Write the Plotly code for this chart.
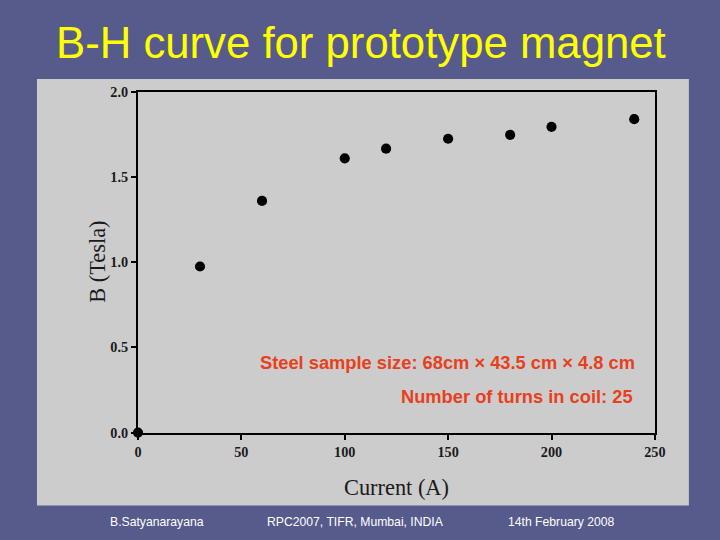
import plotly.graph_objects as go

current_a = [0, 30, 60, 100, 120, 150, 180, 200, 240]
b_tesla = [0.0, 0.975, 1.36, 1.61, 1.667, 1.725, 1.748, 1.795, 1.84]
x_ticks = [0, 50, 100, 150, 200, 250]
y_ticks = [0.0, 0.5, 1.0, 1.5, 2.0]

# reference pixel geometry (720x540 slide)
RW, RH = 720, 540
K = 732 / 720  # photo scale compensation
W, H = round(RW * K), round(RH * K)
x0p, x1p = 137, 654
y0p, y1p = 432, 91

fig = go.Figure()
fig.add_trace(go.Scatter(
    x=current_a, y=b_tesla, mode="markers",
    marker=dict(color="black", size=10 * K),
    cliponaxis=False, showlegend=False,
))

serif = "Liberation Serif, Times New Roman, serif"
sans = "Liberation Sans, Arial, sans-serif"

axis_common = dict(
    showline=True, linecolor="black", linewidth=2, mirror=True,
    ticks="outside", ticklen=5, tickwidth=1.5, tickcolor="black",
    showgrid=False, zeroline=False,
    tickfont=dict(family=serif, size=14 * K, color="#1a1a1a", weight="bold"),
)


def px(x):
    # empirical correction of the photographed offset
    return ((x - 3) / 0.996) / RW


def py(y):
    return (RH - (y - 7) / 0.988) / RH


fig.update_layout(
    width=W, height=H,
    margin=dict(l=0, r=0, t=0, b=0),
    paper_bgcolor="#565b8b",
    plot_bgcolor="#cccccc",
    xaxis=dict(range=[0, 250], tickvals=x_ticks,
               domain=[px(x0p), px(x1p)], **axis_common),
    yaxis=dict(range=[0, 2.0], tickvals=y_ticks, tickformat=".1f",
               domain=[py(y0p), py(y1p)], **axis_common),
    shapes=[
        dict(type="rect", xref="paper", yref="paper", layer="below",
             x0=px(36), x1=min(px(688), 1.0), y0=py(505), y1=py(78),
             fillcolor="#cccccc", line=dict(width=0)),
    ],
    annotations=[
        dict(text="B-H curve for prototype magnet", xref="paper", yref="paper",
             x=px(360.5), y=py(42), showarrow=False, xanchor="center", yanchor="middle",
             font=dict(family=sans, size=43 * K, color="#ffff00")),
        dict(text="Current (A)", xref="paper", yref="paper",
             x=px((x0p + x1p) / 2), y=py(487), showarrow=False,
             xanchor="center", yanchor="middle",
             font=dict(family=serif, size=22 * K, color="#1a1a1a")),
        dict(text="B (Tesla)", xref="paper", yref="paper", textangle=-90,
             x=px(97), y=py(261), showarrow=False,
             xanchor="center", yanchor="middle",
             font=dict(family=serif, size=22 * K, color="#1a1a1a")),
        dict(text="<b>Steel sample size: 68cm × 43.5 cm × 4.8 cm</b>", xref="paper", yref="paper",
             x=px(636), y=py(362), showarrow=False, xanchor="right", yanchor="middle",
             font=dict(family=sans, size=18 * K, color="#e8401c")),
        dict(text="<b>Number of turns in coil: 25</b>", xref="paper", yref="paper",
             x=px(634), y=py(396), showarrow=False, xanchor="right", yanchor="middle",
             font=dict(family=sans, size=18 * K, color="#e8401c")),
        dict(text="B.Satyanarayana", xref="paper", yref="paper",
             x=px(156), y=py(522), showarrow=False, xanchor="center", yanchor="middle",
             font=dict(family=sans, size=12 * K, color="white")),
        dict(text="RPC2007, TIFR, Mumbai, INDIA", xref="paper", yref="paper",
             x=px(355), y=py(522), showarrow=False, xanchor="center", yanchor="middle",
             font=dict(family=sans, size=12 * K, color="white")),
        dict(text="14th February 2008", xref="paper", yref="paper",
             x=px(561), y=py(522), showarrow=False, xanchor="center", yanchor="middle",
             font=dict(family=sans, size=12 * K, color="white")),
    ],
)

fig.write_html(
    "out.html",
    config={"displayModeBar": False},
    post_script=(
        "document.documentElement.style.margin='0';"
        "document.documentElement.style.overflow='hidden';"
        "document.body.style.margin='0';"
        "document.body.style.overflow='hidden';"
        "document.body.style.background='#565b8b';"
    ),
)
